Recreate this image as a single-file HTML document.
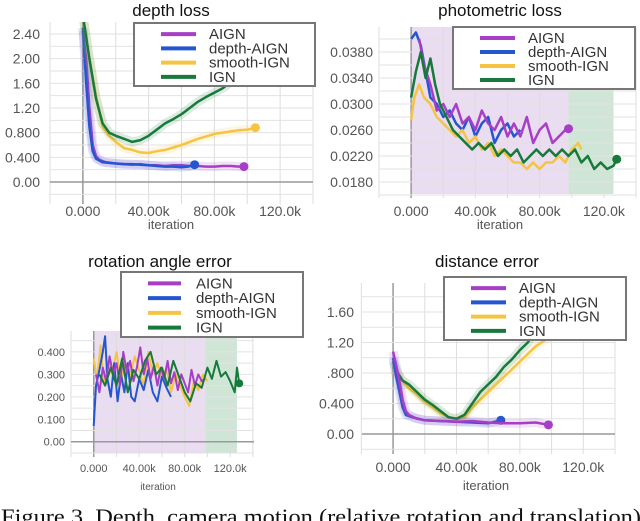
<!DOCTYPE html>
<html><head><meta charset="utf-8"><style>
html,body{margin:0;padding:0;background:#fff;overflow:hidden}
svg{display:block}
text{font-family:"Liberation Sans",sans-serif}
</style></head><body>
<svg id="fig" width="640" height="521" viewBox="0 0 640 521" xmlns="http://www.w3.org/2000/svg">
<text x="1" y="524" font-size="22" textLength="640" lengthAdjust="spacingAndGlyphs" style="font-family:'Liberation Serif',serif" fill="#111">Figure 3. Depth, camera motion (relative rotation and translation)</text>
</svg>
<script>
// ---- data (x in k iterations) ----
const seriesNames = ["AIGN","depth-AIGN","smooth-IGN","IGN"];
// depth loss
const dAIGNx=[0,2,4,6,8,10,14,20,25,30,35,40,45,50,55,60,65,70,75,80,85,90,95,98];
const dAIGNy=[2.45,2.0,1.2,0.6,0.42,0.36,0.32,0.30,0.29,0.28,0.29,0.27,0.27,0.26,0.27,0.27,0.26,0.26,0.25,0.25,0.26,0.26,0.25,0.25];
const dBluex=[0,2,4,6,8,12,16,20,25,30,35,40,45,50,55,60,64,68];
const dBluey=[2.5,1.6,0.9,0.5,0.38,0.32,0.31,0.30,0.29,0.29,0.28,0.27,0.26,0.25,0.25,0.24,0.25,0.28];
const dYelx=[0,4,8,12,16,20,25,30,35,40,45,50,55,60,65,70,75,80,85,90,95,100,105];
const dYely=[2.7,2.0,1.4,0.9,0.75,0.65,0.55,0.52,0.48,0.47,0.5,0.52,0.56,0.6,0.65,0.7,0.74,0.78,0.8,0.82,0.84,0.85,0.88];
const dGrnx=[0,4,8,12,16,20,25,30,35,40,45,50,55,60,65,70,75,80,85,90,100];
const dGrny=[2.7,2.0,1.35,0.95,0.8,0.75,0.7,0.65,0.68,0.75,0.85,0.95,1.02,1.1,1.2,1.3,1.38,1.45,1.52,1.62,1.8];
// photometric loss
const pAIGNx=[5,8,12,16,20,24,28,32,36,40,44,48,52,56,60,64,68,72,76,80,84,88,92,96,98];
const pAIGNy=[0.040,0.036,0.033,0.029,0.030,0.028,0.030,0.027,0.028,0.026,0.029,0.027,0.026,0.028,0.025,0.027,0.025,0.028,0.024,0.026,0.027,0.024,0.025,0.026,0.0262];
const pBluex=[0,3,6,9,12,16,20,24,28,32,36,40,44,48,52,56,60,64,68];
const pBluey=[0.040,0.041,0.039,0.035,0.031,0.030,0.028,0.029,0.027,0.026,0.028,0.025,0.027,0.028,0.024,0.026,0.027,0.025,0.026];
const pYelx=[0,2,5,8,12,16,20,24,28,32,36,40,44,48,52,56,60,64,68,72,76,80,84,88,92,96,100,104,106];
const pYely=[0.0275,0.031,0.033,0.031,0.030,0.028,0.027,0.026,0.025,0.026,0.024,0.025,0.023,0.024,0.022,0.023,0.022,0.021,0.021,0.020,0.021,0.020,0.021,0.021,0.022,0.021,0.023,0.024,0.023];
const pGrnx=[0,3,6,9,12,15,18,22,26,30,34,38,42,46,50,54,58,62,66,70,74,78,82,86,90,94,98,102,106,110,114,118,122,126,128];
const pGrny=[0.031,0.035,0.038,0.034,0.037,0.033,0.030,0.028,0.026,0.025,0.024,0.023,0.024,0.023,0.024,0.022,0.023,0.022,0.023,0.021,0.022,0.023,0.022,0.023,0.022,0.023,0.022,0.023,0.021,0.022,0.020,0.021,0.020,0.0205,0.0215];
// rotation angle error
const rAIGNx=[2,5,8,11,14,17,20,23,26,29,32,35,38,41,44,47,50,53,56,59,62,65,68,71,74,77,80,83,86,89,92,95,98];
const rAIGNy=[0.30,0.22,0.33,0.27,0.38,0.30,0.35,0.25,0.40,0.31,0.36,0.27,0.33,0.42,0.30,0.37,0.28,0.34,0.25,0.33,0.28,0.36,0.26,0.31,0.23,0.30,0.26,0.22,0.32,0.25,0.30,0.27,0.28];
const rBluex=[0,2,5,8,10,12,15,18,21,24,27,30,33,36,40,44,48,52,56,60,64,68];
const rBluey=[0.07,0.25,0.32,0.40,0.47,0.28,0.20,0.35,0.18,0.30,0.22,0.35,0.20,0.18,0.28,0.23,0.32,0.22,0.18,0.29,0.24,0.20];
const rYelx=[0,3,6,9,12,16,20,24,28,32,36,40,44,48,52,56,60,64,68,72,76,80,84,88,92,96,100];
const rYely=[0.37,0.28,0.43,0.26,0.36,0.30,0.40,0.27,0.35,0.29,0.38,0.32,0.25,0.40,0.30,0.35,0.28,0.33,0.22,0.30,0.25,0.20,0.16,0.27,0.23,0.30,0.27];
const rGrnx=[5,10,15,20,25,30,35,40,45,50,55,60,65,70,75,80,85,90,95,100,104,108,112,116,120,124,126,128];
const rGrny=[0.30,0.25,0.33,0.25,0.37,0.22,0.32,0.28,0.36,0.40,0.30,0.33,0.25,0.36,0.29,0.22,0.18,0.26,0.24,0.33,0.28,0.36,0.29,0.31,0.27,0.22,0.33,0.26];
// distance error
const eAIGNx=[0,2,4,6,8,10,15,20,30,40,50,60,70,80,90,98];
const eAIGNy=[1.08,0.9,0.7,0.45,0.3,0.25,0.2,0.18,0.17,0.16,0.17,0.15,0.14,0.14,0.15,0.12];
const eBluex=[0,2,4,6,8,12,20,30,40,50,60,68];
const eBluey=[1.0,0.75,0.55,0.35,0.25,0.22,0.18,0.17,0.16,0.15,0.14,0.18];
const eYelx=[0,5,10,15,20,25,30,35,40,45,50,55,60,65,70,75,80,85,90,95,99];
const eYely=[0.85,0.72,0.6,0.52,0.42,0.35,0.27,0.22,0.19,0.22,0.35,0.45,0.55,0.65,0.75,0.85,0.95,1.05,1.15,1.22,1.28];
const eGrnx=[0,3,6,10,15,20,25,30,35,40,45,50,55,60,65,70,75,80,85,88];
const eGrny=[0.95,0.8,0.7,0.65,0.55,0.45,0.38,0.30,0.22,0.20,0.25,0.40,0.55,0.65,0.75,0.88,0.98,1.1,1.2,1.3];
// tick labels
const xTickVals=[0,40,80,120];
const xTickLabels=["0.000","40.00k","80.00k","120.0k"];
const dYTicks=[0,0.4,0.8,1.2,1.6,2.0,2.4];
const dYLabels=["0.00","0.400","0.800","1.20","1.60","2.00","2.40"];
const pYTicks=[0.018,0.022,0.026,0.030,0.034,0.038];
const pYLabels=["0.0180","0.0220","0.0260","0.0300","0.0340","0.0380"];
const rYTicks=[0,0.1,0.2,0.3,0.4];
const rYLabels=["0.00","0.100","0.200","0.300","0.400"];
const eYTicks=[0,0.4,0.8,1.2,1.6];
const eYLabels=["0.00","0.400",".800","1.20","1.60"];

const COLORS=["#a63fc6","#2457cf","#f5c443","#17793a"];
const NS="http://www.w3.org/2000/svg";
const svg=document.getElementById('fig');
function mk(tag,attrs,parent){const e=document.createElementNS(NS,tag);for(const k in attrs)e.setAttribute(k,attrs[k]);(parent||svg).appendChild(e);return e;}

function panel(P){
  const g=mk('g',{});
  
  
  const sx=v=>P.x0+(v-P.xd[0])/(P.xd[1]-P.xd[0])*(P.x1-P.x0);
  const sy=v=>P.y1-(v-P.yd[0])/(P.yd[1]-P.yd[0])*(P.y1-P.y0);
  const clipId='clip-'+P.name;
  const cp=mk('clipPath',{id:clipId},g);mk('rect',{x:P.x0,y:P.y0,width:P.x1-P.x0,height:P.y1-P.y0},cp);
  (P.shades||[]).forEach(s=>{const r=mk('rect',{x:sx(s[0]),y:P.y0,width:sx(s[1])-sx(s[0]),height:P.y1-P.y0,fill:s[2]},g);
    
    });
  for(let v=-20;v<=140;v+=20){const x=sx(v);mk('line',{x1:x,x2:x,y1:P.y0,y2:P.y1+4,stroke:v===0?'#999':'#ddd','stroke-width':v===0?1.5:1},g);}
  for(let v=P.gridStart;v<=P.yd[1]+1e-9;v+=P.gridStep){const y=sy(v);mk('line',{x1:P.x0,x2:P.x1,y1:y,y2:y,stroke:Math.abs(v)<1e-9?'#999':'#e2e2e2','stroke-width':Math.abs(v)<1e-9?1.5:1},g);}
  P.yt.forEach((v,i)=>{const t=mk('text',{x:P.x0-P.lpad,y:sy(v)+P.fs*0.36,'font-size':P.fs,'text-anchor':'end',fill:'#555'},g);t.textContent=P.yl[i];
    
    });
  xTickVals.forEach((v,i)=>{const t=mk('text',{x:sx(v),y:P.xly,'font-size':P.fs,'text-anchor':'middle',fill:'#555'},g);t.textContent=xTickLabels[i];
    
    });
  const xl=mk('text',{x:P.xlabx,y:P.xlaby,'font-size':P.fs-1,'text-anchor':'middle',fill:'#555'},g);xl.textContent='iteration';
  
  
  const ti=mk('text',{x:P.tx,y:P.ty,'font-size':17,'text-anchor':'middle',fill:'#111'},g);ti.textContent=P.title;
  
  
  const sg=mk('g',{'clip-path':'url(#'+clipId+')'},g);
  P.series.forEach(s=>{
    const ci=s[3];
    const pts=s[0].map((x,j)=>sx(x).toFixed(1)+','+sy(s[1][j]).toFixed(1)).join(' ');
    if(P.band){const b=mk('polyline',{points:pts,fill:'none',stroke:COLORS[ci],'stroke-width':P.band,'stroke-opacity':0.15,'stroke-linejoin':'round'},sg);
      
      }
    const l=mk('polyline',{points:pts,fill:'none',stroke:COLORS[ci],'stroke-width':P.lw,'stroke-linejoin':'round'},sg);
    
    
    if(s[2]){const n=s[0].length-1;const c=mk('circle',{cx:sx(s[0][n]),cy:sy(s[1][n]),r:P.lw+2,fill:COLORS[ci]},sg);
      
      }
  });
  const L=P.leg;
  const lg=mk('g',{},g);
  
  
  mk('rect',{x:L[0],y:L[1],width:L[2]-L[0],height:L[3]-L[1],fill:'#fff',stroke:'#777','stroke-width':2},lg);
  const rh=(L[3]-L[1]-6)/4;
  seriesNames.forEach((n,i)=>{const y=L[1]+4+rh*(i+0.5);
    const e=mk('g',{},lg);
    
    
    mk('line',{x1:L[0]+P.legSw[0],x2:L[0]+P.legSw[1],y1:y,y2:y,stroke:COLORS[i],'stroke-width':4},e);
    const t=mk('text',{x:L[0]+P.legTx,y:y+5,'font-size':15,fill:'#333'},e);t.textContent=n;});
}

panel({name:'depth-loss',title:'depth loss',tx:171,ty:16,x0:50,x1:313,y0:22,y1:200,xd:[-20,140],
  yd:[(182-200)/(148/2.4),(182-22)/(148/2.4)],gridStart:-0.2,gridStep:0.2,yt:dYTicks,yl:dYLabels,lpad:10,fs:14,xly:216,xlabx:171,xlaby:229,
  series:[[dAIGNx,dAIGNy,1,0],[dBluex,dBluey,1,1],[dYelx,dYely,1,2],[dGrnx,dGrny,0,3]],band:9,lw:2.5,
  leg:[134,23,315,86],legSw:[27,62],legTx:75});
panel({name:'photometric-loss',title:'photometric loss',tx:500,ty:16,x0:379,x1:636,y0:27,y1:194,xd:[-20,140],
  yd:[0.018-(194-182)/6500,0.018+(182-27)/6500],gridStart:0.016,gridStep:0.002,yt:pYTicks,yl:pYLabels,lpad:6,fs:14,xly:216,xlabx:500,xlaby:229,
  shades:[[0,98,'#eadcf1'],[98,126,'#cfe6d6']],
  series:[[pBluex,pBluey,0,1],[pYelx,pYely,0,2],[pAIGNx,pAIGNy,1,0],[pGrnx,pGrny,1,3]],band:0,lw:2.5,
  leg:[453,27,635,89],legSw:[27,62],legTx:75});
panel({name:'rotation-angle-error',title:'rotation angle error',tx:160,ty:267,x0:71,x1:254,y0:331,y1:453,xd:[-20,141],
  yd:[-0.05,0.493],gridStart:-0.05,gridStep:0.05,yt:rYTicks,yl:rYLabels,lpad:6,fs:11,xly:472,xlabx:158,xlaby:490,
  shades:[[0,98,'#eadcf1'],[98,126,'#cfe6d6']],
  series:[[rYelx,rYely,0,2],[rBluex,rBluey,0,1],[rAIGNx,rAIGNy,0,0],[rGrnx,rGrny,1,3]],band:0,lw:2,
  leg:[121,272,303,337],legSw:[27,60],legTx:75});
panel({name:'distance-error',title:'distance error',tx:487,ty:267,x0:362,x1:615,y0:283,y1:450,xd:[-19.6,140],
  yd:[-0.21,1.98],gridStart:-0.2,gridStep:0.2,yt:eYTicks,yl:eYLabels,lpad:8,fs:14,xly:472,xlabx:486,xlaby:490,
  series:[[eYelx,eYely,0,2],[eGrnx,eGrny,0,3],[eBluex,eBluey,1,1],[eAIGNx,eAIGNy,1,0]],band:9,lw:2.5,
  leg:[444,277,626,340],legSw:[27,62],legTx:75});
</script>
</body></html>
